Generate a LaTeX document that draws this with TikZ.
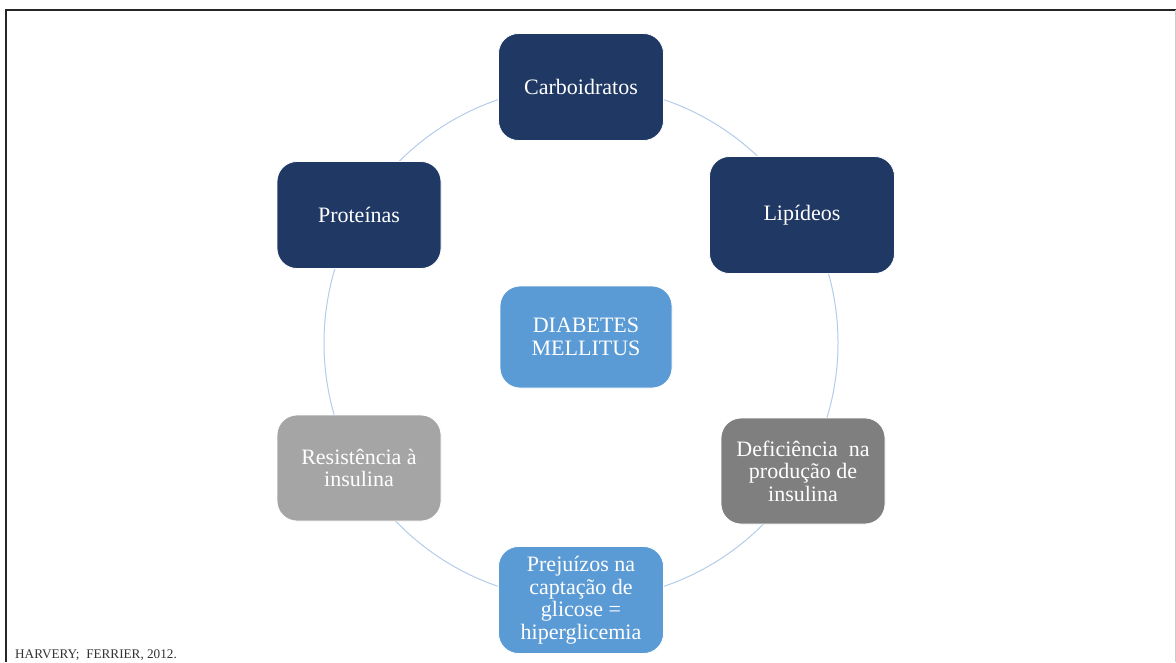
\documentclass[tikz,border=0pt]{standalone}
\usepackage{fontspec}
\setmainfont{Liberation Serif}
\usepackage{xcolor}
\definecolor{navy}{HTML}{1F3864}
\definecolor{skyblue}{HTML}{5B9BD5}
\definecolor{greylight}{HTML}{A5A5A5}
\definecolor{greydark}{HTML}{7F7F7F}
\definecolor{ringblue}{HTML}{B4CDEA}
\tikzset{
  topic/.style={rounded corners=20pt, draw=white, line width=0.8pt, text=white, align=center,
    inner sep=2pt, font=\fontsize{22}{22.5}\selectfont},
}

\begin{document}
\begin{tikzpicture}[x=1pt,y=-1pt]
\useasboundingbox (0,0) rectangle (1176,662);
\fill[white] (0,0) rectangle (1176,662);
\draw[line width=2pt, black!85] (6,662) -- (6,10) -- (1176,10);
\draw[line width=0.6pt, black!20] (1175,10) -- (1175,662);
% ring behind the boxes
\draw[ringblue, line width=1pt] (581,343) circle[radius=257];

\node[topic, fill=navy, minimum width=165pt, minimum height=107pt] (carb) at (581,87) {Carboidratos};
\node[topic, fill=navy, minimum width=185pt, minimum height=117pt] (lip) at (802,215) {Lipídeos};
\node[topic, fill=navy, minimum width=164pt, minimum height=107pt] (prot) at (359,215) {Proteínas};
\node[topic, fill=skyblue, minimum width=172pt, minimum height=102pt] (dm) at (586,337) {DIABETES\\MELLITUS};
\node[topic, fill=greylight, minimum width=164pt, minimum height=106pt] (resist) at (359,468) {Resistência à\\insulina};
\node[topic, fill=greydark, minimum width=164pt, minimum height=106pt] (defic) at (803,471) {Deficiência\ \ na\\produção de\\insulina};
\node[topic, fill=skyblue, minimum width=165pt, minimum height=107pt] (prej) at (581,600) {Prejuízos na\\captação de\\glicose =\\hiperglicemia};

\node[anchor=west, inner sep=0pt, font=\fontsize{13.2}{13}\selectfont, black!80] (ref) at (15,655) {HARVERY;\ \ FERRIER, 2012.};
\end{tikzpicture}
\end{document}
